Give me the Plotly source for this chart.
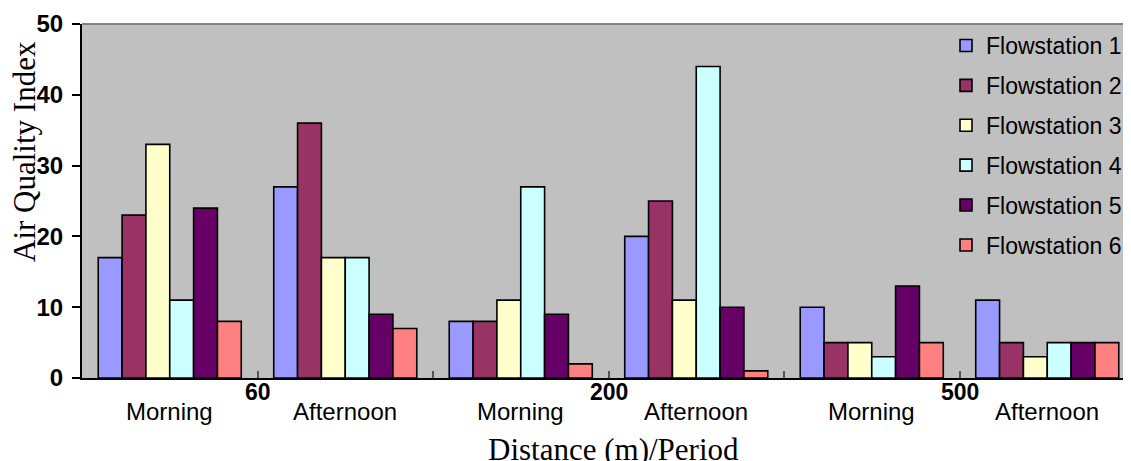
import plotly.graph_objects as go

distances = ["60", "200", "500"]
periods = ["Morning", "Afternoon"]
series_names = ["Flowstation 1", "Flowstation 2", "Flowstation 3",
                "Flowstation 4", "Flowstation 5", "Flowstation 6"]
colors = ["#9999FF", "#993366", "#FFFFCC", "#CCFFFF", "#660066", "#FF8080"]

# values per category: 60 M, 60 A, 200 M, 200 A, 500 M, 500 A
fs1 = [17, 27, 8, 20, 10, 11]
fs2 = [23, 36, 8, 25, 5, 5]
fs3 = [33, 17, 11, 11, 5, 3]
fs4 = [11, 17, 27, 44, 3, 5]
fs5 = [24, 9, 9, 10, 13, 5]
fs6 = [8, 7, 2, 1, 5, 5]
series_values = [fs1, fs2, fs3, fs4, fs5, fs6]

n_cat = len(distances) * len(periods)
xpos = list(range(n_cat))

fig = go.Figure()
for i, (name, vals) in enumerate(zip(series_names, series_values)):
    fig.add_trace(go.Bar(
        x=xpos, y=vals, name=name, legendgroup=name,
        marker=dict(color=colors[i], line=dict(color="black", width=1.6)),
    ))

# page body has an 8px margin; figure is sized to fill the rest of the window
OFF = 8
W, H = 1131 - OFF, 461 - OFF
L, T = 82 - OFF, 24 - OFF
plot_bottom = 378 - OFF
B = H - plot_bottom
plot_w = W - L
plot_h = plot_bottom - T
cat_px = 175.5
xmax = -0.5 + plot_w / cat_px


def py(ypix):
    return (378 - ypix) / plot_h


def px(xpix):
    return (xpix - 82) / plot_w


annotations = []
for ci in range(n_cat):
    annotations.append(dict(
        x=ci, y=py(412), xref="x", yref="paper", showarrow=False,
        text=periods[ci % 2], xanchor="center", yanchor="middle",
        font=dict(family="Liberation Sans, Arial", size=24, color="black")))
for di, d in enumerate(distances):
    annotations.append(dict(
        x=di * 2 + 0.5, y=py(392), xref="x", yref="paper", showarrow=False,
        text="<b>" + d + "</b>", xanchor="center", yanchor="middle",
        font=dict(family="Liberation Sans, Arial", size=23, color="black")))
annotations.append(dict(
    x=px(613), y=py(449), xref="paper", yref="paper",
    showarrow=False, text="Distance (m)/Period", xanchor="center", yanchor="middle",
    font=dict(family="Liberation Serif, Times New Roman", size=31, color="black")))
annotations.append(dict(
    x=px(24), y=py(152), xref="paper", yref="paper",
    showarrow=False, text="Air Quality Index", textangle=-90,
    xanchor="center", yanchor="middle",
    font=dict(family="Liberation Serif, Times New Roman", size=31, color="black")))

fig.update_layout(
    width=W, height=H,
    margin=dict(l=L, r=0, t=T, b=B, pad=0),
    paper_bgcolor="white", plot_bgcolor="#C0C0C0",
    barmode="group", bargap=0.185, bargroupgap=0,
    showlegend=True,
    legend=dict(x=px(946), xanchor="left", y=1.0, yanchor="top",
                bgcolor="rgba(0,0,0,0)", tracegroupgap=7,
                font=dict(family="Liberation Sans, Arial", size=23, color="black")),
    annotations=annotations,
    shapes=[dict(type="line", xref="paper", yref="paper", x0=0, x1=1, y0=1, y1=1,
                 line=dict(color="#808080", width=2))],
    xaxis=dict(range=[-0.5, xmax], tickvals=[0.5, 1.5, 2.5, 3.5, 4.5],
               ticktext=["", "", "", "", ""], ticks="inside", ticklen=7,
               tickcolor="#555555", tickwidth=1.5, showgrid=False, zeroline=False,
               showline=True, linecolor="black", linewidth=2),
    yaxis=dict(range=[0, 50], tickvals=[0, 10, 20, 30, 40, 50], ticks="outside",
               ticklen=8, tickcolor="black", tickwidth=1.5, showgrid=False,
               zeroline=False, showline=True, linecolor="black", linewidth=2,
               ticklabelstandoff=4,
               tickfont=dict(family="Liberation Sans, Arial", size=24, color="black",
                             weight="bold")),
)

fig.write_html("out.html")
